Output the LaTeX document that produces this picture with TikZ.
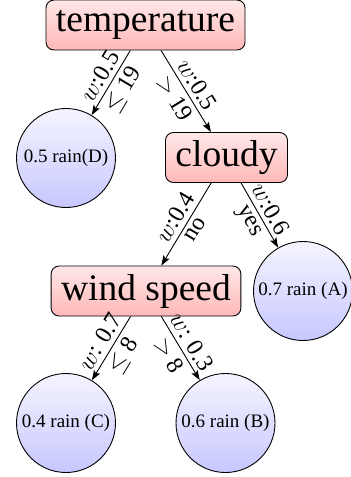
\documentclass[tikz,border=0pt]{standalone}
\usepackage{fontspec}
\setmainfont{Liberation Serif}
\usetikzlibrary{arrows.meta,positioning}

\begin{document}
\begin{tikzpicture}[->,>={Stealth[length=10pt,width=7pt,inset=2pt]},line width=0.9pt,on grid,
			test node/.style={rectangle,rounded corners=8pt,draw,top color=red!9,bottom color=red!28,
				minimum height=50pt,inner xsep=10pt,font=\fontsize{37.5}{40}\selectfont},
			leaf node/.style={circle,draw,top color=blue!4,bottom color=blue!22,
				minimum size=99pt,inner sep=0pt,font=\fontsize{19}{21}\selectfont}]
			
			\useasboundingbox (0,0) rectangle (351pt,-477pt);
			
			\node[test node] (temp) at (145.5pt,-25pt) {temperature};
			\node[leaf node] (D) [below left=133pt and 79.5pt of temp] {0.5 rain(D)};
			\node[test node] (cloudy) [below right=132.5pt and 81pt of temp] {cloudy};
			\node[test node] (wind) [below left=133.5pt and 80.5pt of cloudy] {wind speed};
			\node[leaf node] (A) [below right=133.5pt and 76.5pt of cloudy] {0.7 rain (A)};
			\node[leaf node] (C) [below left=132pt and 80pt of wind] {0.4 rain (C)};
			\node[leaf node] (B) [below right=132pt and 79.5pt of wind] {0.6 rain (B)};
			
			\path[every node/.style={font=\fontsize{24}{26}\selectfont,sloped,inner sep=4.5pt}]
			(temp) edge node [above] {$w$:0.5} node [below] {$\leq$ 19} (D)
			(temp) edge node [above] {$w$:0.5} node [below] {$>$ 19} (cloudy)
			(cloudy) edge node [above] {$w$:0.4} node [below] {no} (wind)
			(cloudy) edge node [above] {$w$:0.6} node [below] {yes} (A)
			(wind) edge node [above] {$w$: 0.7} node [below] {$\leq$ 8} (C)
			(wind) edge node [above] {$w$: 0.3} node [below] {$>$ 8} (B);
			
			\end{tikzpicture}
\end{document}
